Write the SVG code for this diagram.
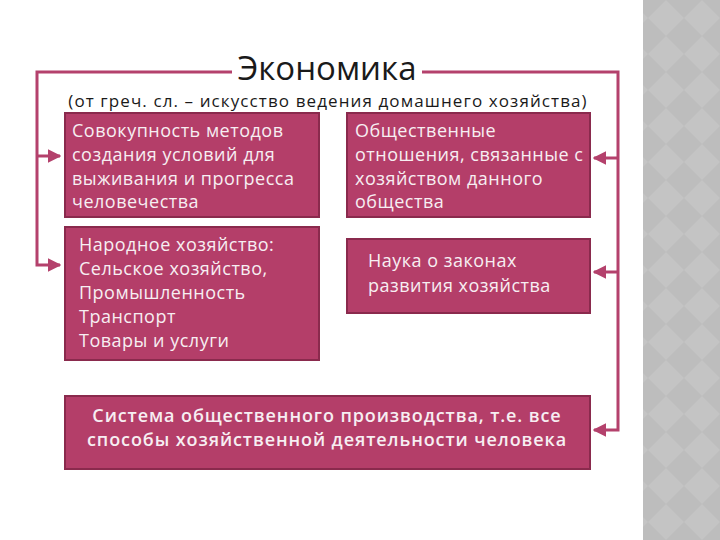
<svg xmlns="http://www.w3.org/2000/svg" width="720" height="540" viewBox="0 0 720 540">
<defs>
<style>
.box{fill:#b43e69;stroke:#8a2a4d;stroke-width:2}
.t{font-family:"Open Sans","DejaVu Sans",sans-serif;font-size:18px;letter-spacing:0.5px;fill:#f7eef2}
.tb{font-family:"Open Sans","DejaVu Sans",sans-serif;font-size:18px;letter-spacing:0.9px;fill:#f7eef2;font-weight:600}
.ln{fill:none;stroke:#b4416c;stroke-width:3}
</style>
<marker id="ah" viewBox="0 0 10 10" refX="9" refY="5" markerWidth="4.5" markerHeight="4.5" orient="auto" markerUnits="strokeWidth">
<path d="M0,0 L10,5 L0,10 z" fill="#b4416c"/>
</marker>
<pattern id="dia" width="36" height="36" patternUnits="userSpaceOnUse">
<rect width="36" height="36" fill="#bdbdbd"/>
<path d="M18,0 L36,18 L18,36 L0,18 z" fill="#c4c4c4"/>
</pattern>
</defs>
<rect width="720" height="540" fill="#ffffff"/>
<rect x="643" y="0" width="77" height="540" fill="url(#dia)"/>

<g id="title">
<text x="327" y="80" font-family="Open Sans, DejaVu Sans, sans-serif" font-size="33" fill="#1a1a1a" text-anchor="middle">Экономика</text>
<text x="328" y="107" font-family="Open Sans, DejaVu Sans, sans-serif" font-size="17" letter-spacing="1.1" fill="#1a1a1a" text-anchor="middle">(от греч. сл. – искусство ведения домашнего хозяйства)</text>
</g>

<g id="connectors">
<path class="ln" d="M232,72 H37 V265 H60" marker-end="url(#ah)"/>
<path class="ln" d="M37,156 H60" marker-end="url(#ah)"/>
<path class="ln" d="M422,72 H618 V430 H594" marker-end="url(#ah)"/>
<path class="ln" d="M618,158 H594" marker-end="url(#ah)"/>
<path class="ln" d="M618,272 H594" marker-end="url(#ah)"/>
</g>

<g id="box1">
<rect class="box" x="65" y="113" width="254" height="104"/>
<text class="t" x="72" y="137">Совокупность методов</text>
<text class="t" x="72" y="161">создания условий для</text>
<text class="t" x="72" y="185">выживания и прогресса</text>
<text class="t" x="72" y="208">человечества</text>
</g>

<g id="box2">
<rect class="box" x="347" y="113" width="243" height="104"/>
<text class="t" x="355" y="137">Общественные</text>
<text class="t" x="355" y="161">отношения, связанные с</text>
<text class="t" x="355" y="185">хозяйством данного</text>
<text class="t" x="355" y="208">общества</text>
</g>

<g id="box3">
<rect class="box" x="65" y="227" width="254" height="133"/>
<text class="t" x="79" y="251">Народное хозяйство:</text>
<text class="t" x="79" y="275">Сельское хозяйство,</text>
<text class="t" x="79" y="299">Промышленность</text>
<text class="t" x="79" y="323">Транспорт</text>
<text class="t" x="79" y="347">Товары и услуги</text>
</g>

<g id="box4">
<rect class="box" x="347" y="239" width="243" height="74"/>
<text class="t" x="368" y="267">Наука о законах</text>
<text class="t" x="368" y="292">развития хозяйства</text>
</g>

<g id="box5">
<rect class="box" x="65" y="396" width="525" height="73"/>
<text class="tb" x="327" y="422" text-anchor="middle">Система общественного производства, т.е. все</text>
<text class="tb" x="327" y="446" text-anchor="middle">способы хозяйственной деятельности человека</text>
</g>
</svg>
